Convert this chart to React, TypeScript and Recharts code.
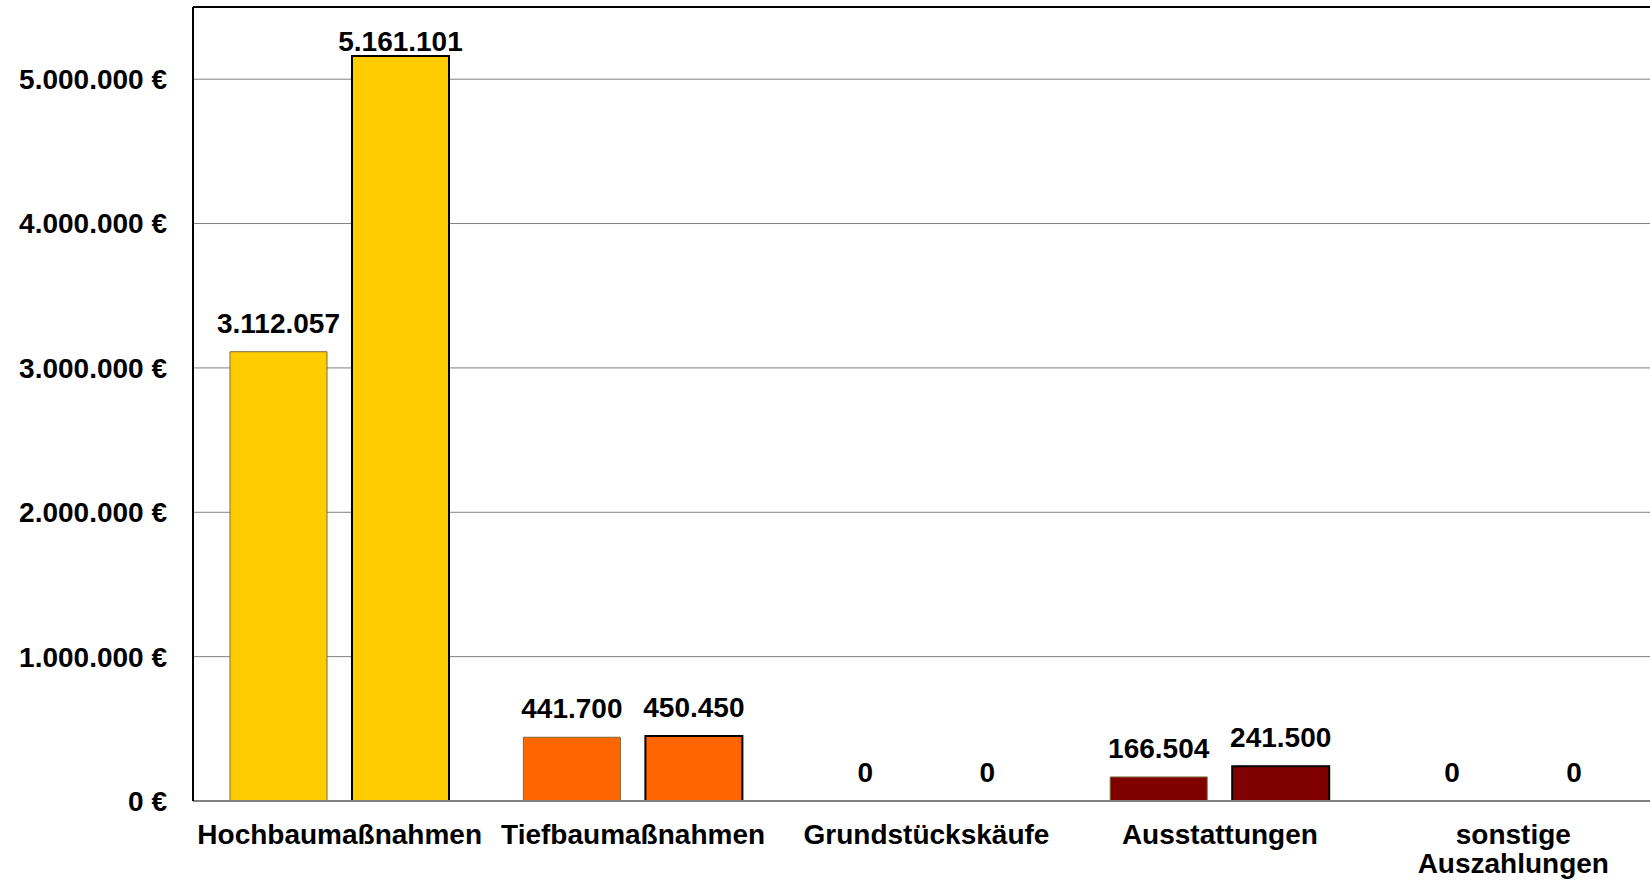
import React from 'react';
import {
  BarChart,
  Bar,
  XAxis,
  YAxis,
  CartesianGrid,
  Cell,
  LabelList,
  ReferenceLine,
} from 'recharts';

// ---- data ----
const categories = [
  'Hochbaumaßnahmen',
  'Tiefbaumaßnahmen',
  'Grundstückskäufe',
  'Ausstattungen',
  'sonstige\nAuszahlungen',
];
const seriesA = [3112057, 441700, 0, 166504, 0];
const seriesB = [5161101, 450450, 0, 241500, 0];
const categoryColors = ['#FFCC00', '#FF6600', '#993366', '#800000', '#999999'];
const yTicks = [0, 1000000, 2000000, 3000000, 4000000, 5000000];
const yMax = 5500000;

const data = categories.map((c, i) => ({ cat: c, a: seriesA[i], b: seriesB[i] }));

const FONT = '"Liberation Sans", Arial, sans-serif';
const fmt = (v: number) => String(Math.round(v)).replace(/\B(?=(\d{3})+(?!\d))/g, '.');

const LABEL_OFFSET = 19;
const LABEL_MIN_BASELINE = 51;

const ValueLabel = (props: any) => {
  const vb = props.viewBox && props.viewBox.width !== undefined ? props.viewBox : props;
  const x = Number(vb.x);
  const y = Number(vb.y);
  const w = Number(vb.width);
  const h = Number(vb.height) || 0;
  const top = Math.min(y, y + h);
  const baseline = Math.max(top - LABEL_OFFSET, LABEL_MIN_BASELINE);
  return (
    <text
      x={x + w / 2}
      y={baseline}
      textAnchor="middle"
      fontFamily={FONT}
      fontWeight="bold"
      fontSize={28}
      fill="#000"
    >
      {fmt(Number(props.value))}
    </text>
  );
};

const CategoryTick = (props: any) => {
  const { x, y, payload } = props;
  const lines = String(payload.value).split('\n');
  return (
    <text
      x={x}
      y={y}
      textAnchor="middle"
      fontFamily={FONT}
      fontWeight="bold"
      fontSize={28}
      fill="#000"
    >
      {lines.map((l, i) => (
        <tspan key={i} x={x} dy={i === 0 ? 20 : 29}>
          {l}
        </tspan>
      ))}
    </text>
  );
};

export default function App() {
  return (
    <div style={{ width: 1650, height: 884, overflow: 'hidden', background: '#fff' }}>
      <style>{`body{margin:0;}`}</style>
      <BarChart
        width={1660}
        height={884}
        data={data}
        margin={{ top: 7, right: 0, bottom: 0, left: 0 }}
        barSize={97}
        barGap={25}
      >
        <CartesianGrid horizontal vertical={false} stroke="#808080" strokeWidth={1} />
        <XAxis
          dataKey="cat"
          height={83}
          interval={0}
          tickLine={false}
          tickSize={0}
          tickMargin={23}
          axisLine={{ stroke: '#808080', strokeWidth: 2 }}
          tick={<CategoryTick />}
        />
        <YAxis
          width={193}
          domain={[0, yMax]}
          ticks={yTicks}
          interval={0}
          tickLine={false}
          tickSize={0}
          tickMargin={26}
          axisLine={{ stroke: '#000', strokeWidth: 2 }}
          tickFormatter={(v: number) => `${fmt(v)} €`}
          tick={{ fontFamily: FONT, fontWeight: 'bold', fontSize: 28, fill: '#000' }}
          allowDataOverflow
        />
        <ReferenceLine y={yMax} stroke="#000" strokeWidth={2} />
        <Bar dataKey="a" isAnimationActive={false} strokeWidth={1} minPointSize={0.01}>
          {data.map((d, i) => (
            <Cell
              key={i}
              fill={d.a === 0 ? 'none' : categoryColors[i]}
              stroke={d.a === 0 ? 'none' : '#7a6a3a'}
            />
          ))}
          <LabelList dataKey="a" content={<ValueLabel />} />
        </Bar>
        <Bar dataKey="b" isAnimationActive={false} strokeWidth={2} minPointSize={0.01}>
          {data.map((d, i) => (
            <Cell
              key={i}
              fill={d.b === 0 ? 'none' : categoryColors[i]}
              stroke={d.b === 0 ? 'none' : '#000'}
            />
          ))}
          <LabelList dataKey="b" content={<ValueLabel />} />
        </Bar>
      </BarChart>
    </div>
  );
}
